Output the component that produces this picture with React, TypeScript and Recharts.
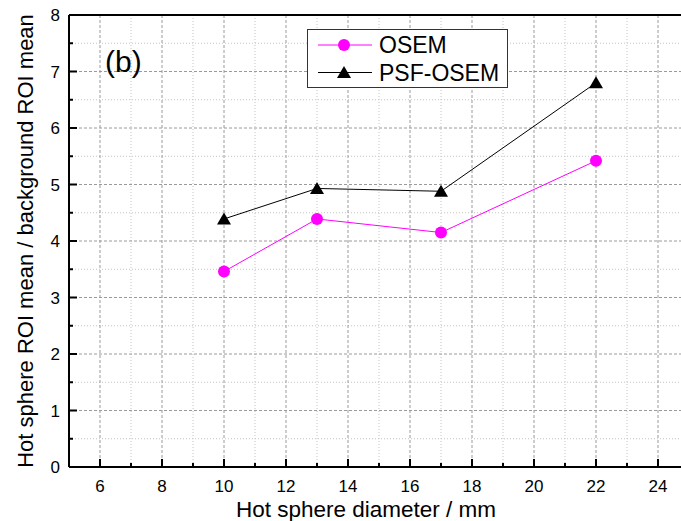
import React from 'react';
import { LineChart, Line, XAxis, YAxis, CartesianGrid, ReferenceLine } from 'recharts';

const diameters = [10, 13, 17, 22];
const osemValues = [3.46, 4.39, 4.15, 5.42];
const psfOsemValues = [4.39, 4.93, 4.88, 6.8];

const xAllTicks = [5, 6, 7, 8, 9, 10, 11, 12, 13, 14, 15, 16, 17, 18, 19, 20, 21, 22, 23, 24, 25];
const xMajorTicks = [6, 8, 10, 12, 14, 16, 18, 20, 22, 24];
const xMinorTicks = [5, 7, 9, 11, 13, 15, 17, 19, 21, 23, 25];
const yAllTicks = [0, 0.5, 1, 1.5, 2, 2.5, 3, 3.5, 4, 4.5, 5, 5.5, 6, 6.5, 7, 7.5, 8];
const yMajorTicks = [0, 1, 2, 3, 4, 5, 6, 7, 8];
const yMinorTicks = [0.5, 1.5, 2.5, 3.5, 4.5, 5.5, 6.5, 7.5];

const xTitle = 'Hot sphere diameter / mm';
const yTitle = 'Hot sphere ROI mean / background ROI mean';
const panelLabel = '(b)';
const seriesNames = ['OSEM', 'PSF-OSEM'];

const data = diameters.map((d, i) => ({ d, osem: osemValues[i], psf: psfOsemValues[i] }));

const FONT = "Arial, 'Liberation Sans', sans-serif";
const MAGENTA = '#ff00ff';

const XTick = (props: any) => {
  const { x, y, payload } = props;
  const v = payload.value;
  const major = xMajorTicks.includes(v);
  return (
    <g>
      <line x1={x} x2={x} y1={y} y2={y - (major ? 8 : 4)} stroke="#000" strokeWidth={2} />
      {major && (
        <text x={x} y={y + 24.5} textAnchor="middle" fontSize={17} fontFamily={FONT} fill="#000">
          {v}
        </text>
      )}
    </g>
  );
};

const YTick = (props: any) => {
  const { x, y, payload } = props;
  const v = payload.value;
  const major = yMajorTicks.includes(v);
  return (
    <g>
      <line x1={x} x2={x + (major ? 8 : 4)} y1={y} y2={y} stroke="#000" strokeWidth={2} />
      {major && (
        <text x={x - 9} y={y} dy="0.36em" textAnchor="end" fontSize={17} fontFamily={FONT} fill="#000">
          {v}
        </text>
      )}
    </g>
  );
};

const CircleDot = (props: any) => {
  const { cx, cy, index } = props;
  return <circle key={`c-${index}`} cx={cx} cy={cy} r={6} fill={MAGENTA} stroke="none" />;
};

const TriangleDot = (props: any) => {
  const { cx, cy, index } = props;
  return (
    <polygon
      key={`t-${index}`}
      points={`${cx},${cy - 6.5} ${cx - 7},${cy + 5.5} ${cx + 7},${cy + 5.5}`}
      fill="#000"
      stroke="none"
    />
  );
};

const LegendBox = () => (
  <svg width={201} height={60} style={{ position: 'absolute', left: 307, top: 29, pointerEvents: 'none' }}>
    <rect x={0.5} y={0.5} width={200} height={58} fill="#fff" stroke="#333" strokeWidth={1} />
    <line x1={11} x2={65} y1={16} y2={16} stroke={MAGENTA} strokeWidth={1} />
    <circle cx={37} cy={16} r={6} fill={MAGENTA} />
    <text x={72} y={24} fontSize={23} fontFamily={FONT} fill="#000">{seriesNames[0]}</text>
    <line x1={11} x2={65} y1={43.5} y2={43.5} stroke="#000" strokeWidth={1} />
    <polygon points="37,37 30,49 44,49" fill="#000" />
    <text x={72} y={52} fontSize={23} fontFamily={FONT} fill="#000">{seriesNames[1]}</text>
  </svg>
);

export default function App() {
  return (
    <div style={{ position: 'absolute', left: 0, top: 0, width: 681, height: 521, overflow: 'hidden', background: '#fff' }}>
      <LineChart width={700} height={521} data={data} margin={{ top: 15, right: 11, bottom: 0, left: 0 }}>
        <XAxis xAxisId="xMin" type="number" dataKey="d" domain={[5, 25]} ticks={xMinorTicks} hide allowDataOverflow />
        <XAxis xAxisId="xMaj" type="number" dataKey="d" domain={[5, 25]} ticks={xMajorTicks} hide allowDataOverflow />
        <YAxis yAxisId="yMin" type="number" domain={[0, 8]} ticks={yMinorTicks} hide allowDataOverflow />
        <YAxis yAxisId="yMaj" type="number" domain={[0, 8]} ticks={yMajorTicks} hide allowDataOverflow />
        <CartesianGrid xAxisId="xMin" yAxisId="yMin" stroke="#c4c4c4" strokeDasharray="1 2" strokeWidth={1} />
        <CartesianGrid xAxisId="xMaj" yAxisId="yMaj" stroke="#9a9a9a" strokeDasharray="3 2" strokeWidth={1} />
        <XAxis
          xAxisId="x"
          type="number"
          dataKey="d"
          domain={[5, 25]}
          ticks={xAllTicks}
          interval={0}
          height={54}
          tickLine={false}
          tickSize={0}
          tickMargin={0}
          axisLine={{ stroke: '#000', strokeWidth: 2 }}
          tick={<XTick />}
          allowDataOverflow
        />
        <YAxis
          yAxisId="y"
          type="number"
          domain={[0, 8]}
          ticks={yAllTicks}
          interval={0}
          width={69}
          tickLine={false}
          tickSize={0}
          tickMargin={0}
          axisLine={{ stroke: '#000', strokeWidth: 2 }}
          tick={<YTick />}
          allowDataOverflow
        />
        <ReferenceLine xAxisId="x" yAxisId="y" y={8} stroke="#000" strokeWidth={2} />
        <ReferenceLine xAxisId="x" yAxisId="y" x={25} stroke="#000" strokeWidth={2} />
        <Line
          xAxisId="x"
          yAxisId="y"
          type="linear"
          dataKey="osem"
          name={seriesNames[0]}
          stroke={MAGENTA}
          strokeWidth={1}
          dot={CircleDot}
          activeDot={false}
          isAnimationActive={false}
        />
        <Line
          xAxisId="x"
          yAxisId="y"
          type="linear"
          dataKey="psf"
          name={seriesNames[1]}
          stroke="#000"
          strokeWidth={1}
          dot={TriangleDot}
          activeDot={false}
          isAnimationActive={false}
        />
      </LineChart>
      <LegendBox />
      <svg
        width={681}
        height={521}
        style={{ position: 'absolute', left: 0, top: 0, pointerEvents: 'none' }}
      >
        <text x={105} y={72} fontSize={30} fontFamily={FONT} fill="#000">{panelLabel}</text>
        <text x={366} y={516.5} textAnchor="middle" fontSize={22.5} fontFamily={FONT} fill="#000">{xTitle}</text>
        <text
          x={33}
          y={241}
          textAnchor="middle"
          fontSize={22}
          fontFamily={FONT}
          fill="#000"
          transform="rotate(-90 33 241)"
        >
          {yTitle}
        </text>
      </svg>
    </div>
  );
}
